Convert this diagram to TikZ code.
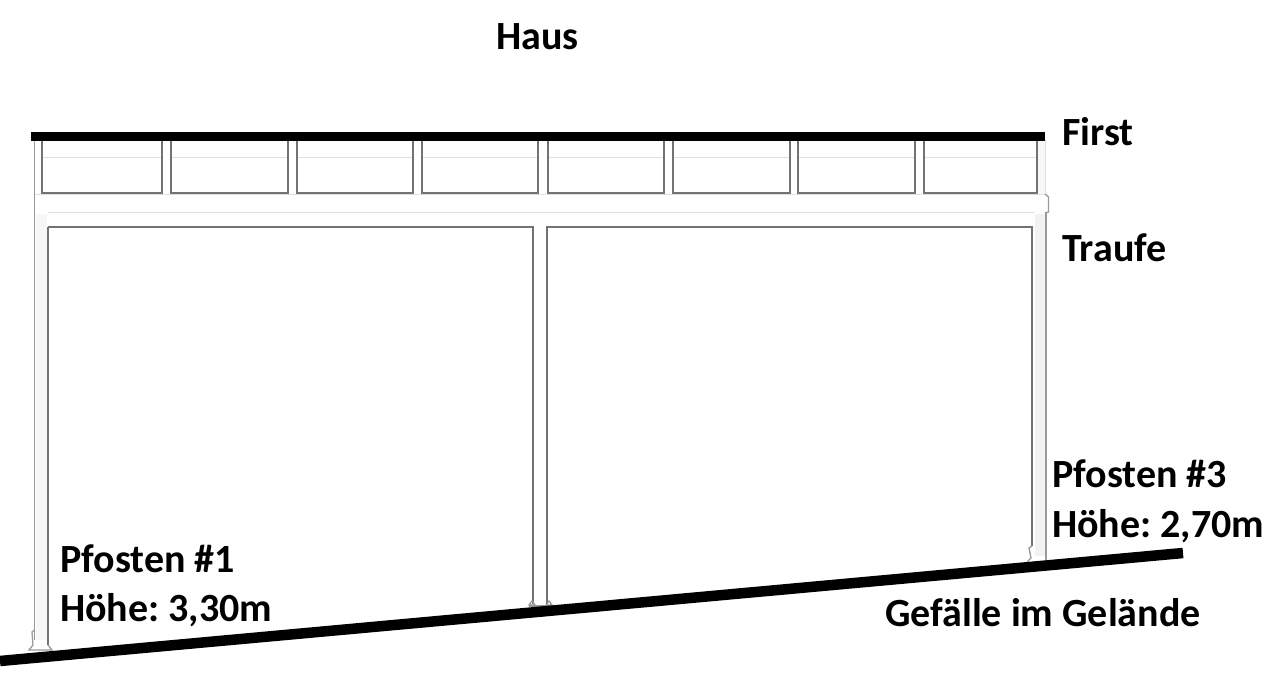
\documentclass[tikz,border=0pt]{standalone}
\usepackage{fontspec}
\setmainfont{Carlito}
\frenchspacing
\begin{document}
\begin{tikzpicture}[x=1pt,y=-1pt,
  lab/.style={font=\bfseries\fontsize{40}{40}\selectfont,text=black,inner sep=0pt,anchor=base west},
  dark/.style={draw=black!55,line width=1.5pt},
  mid/.style={draw=black!40,line width=1.3pt},
  faint/.style={draw=black!12,line width=1pt},
  heavy/.style={draw=black,line width=9pt},
  ground/.style={draw=black,line width=10.5pt}]
\useasboundingbox (0,0) rectangle (1266,685);
% post shading
\fill[black!3] (36,214) rectangle (47,640);
\fill[black!5] (1035,214) rectangle (1045,556);
\fill[black!3] (1038,140) rectangle (1045,194);
% upper posts
\draw[mid] (34.5,140) -- (34.5,212);
\draw[faint] (41,140) -- (41,194);
\draw[mid] (1037,140) -- (1037,194);
\draw[faint] (1045.5,140) -- (1045.5,194);
% panels
\foreach \a/\b in {42/162,171/288,297/413,422/538,548/664,673/790,798/915,924/1037}{
  \draw[faint] (\a,157) -- (\b,157);
  \draw[dark] (\a,140) -- (\a,193) -- (\b,193) -- (\b,140);
}
\foreach \a/\b in {162/171,288/297,413/422,538/548,664/673,790/798,915/924}{
  \draw[faint] (\a,194.5) -- (\b,194.5);
}
% beam
\draw[faint] (35,194.5) -- (1045,194.5);
\draw[faint] (48,212) -- (1034,212);
\draw[mid] (1045,194) -- (1048.5,197) -- (1048.5,212) -- (1045,213);
% posts
\draw[mid] (34.5,212) -- (34.5,640);
\draw[dark] (48,227) -- (48,645);
\draw[dark] (48,227) -- (533,227) -- (533,604);
\draw[dark] (547,604) -- (547,227) -- (1032,227) -- (1032,546);
\draw[mid] (1046,212) -- (1046,560);
% feet
\draw[mid] (34.5,630) -- (32,632) -- (33,645) -- (29,650) -- (52,650) -- (48,645);
\draw[mid] (529,605) -- (532,601) -- (535,605) -- cycle;
\draw[mid] (546,605) -- (549,601) -- (552,605) -- cycle;
\draw[mid] (529,606) -- (552,606);
\draw[mid] (1032,546) -- (1029,548) -- (1031,558) -- (1027,562);
% roof and ground
\draw[heavy] (31,136.5) -- (1045,136.5);
\draw[ground] (0,661) -- (1183,553);
% labels
\node[lab] (haus) at (496,50) {Haus};
\node[lab] (first) at (1062,145) {First};
\node[lab] (traufe) at (1062,261) {Traufe};
\node[lab] (p3a) at (1052,487) {Pfosten \#3};
\node[lab] (p3b) at (1052,537) {Höhe: 2,70m};
\node[lab] (p1a) at (60,572) {Pfosten \#1};
\node[lab] (p1b) at (60,621) {Höhe: 3,30m};
\node[lab] (gef) at (885,626) {Gefälle im Gelände};
\end{tikzpicture}
\end{document}
